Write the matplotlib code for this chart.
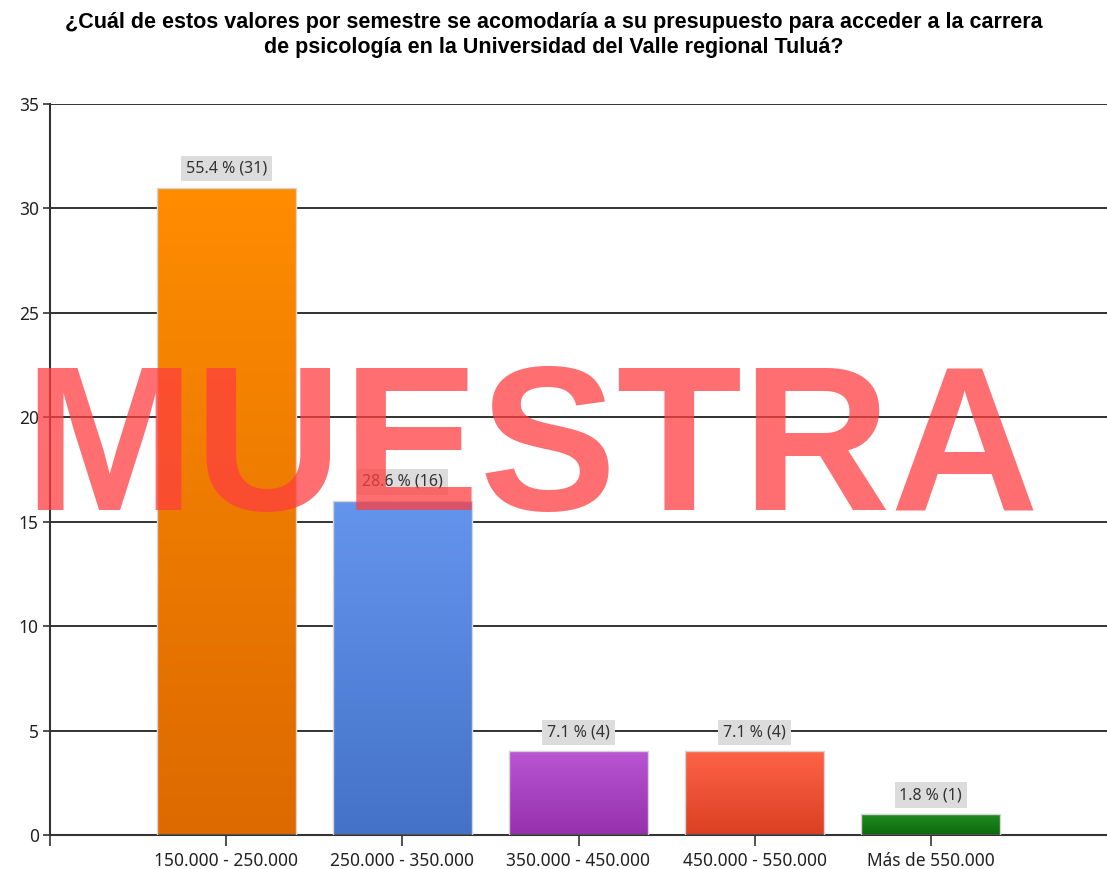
import matplotlib
matplotlib.use('Agg')
import matplotlib.pyplot as plt
import numpy as np
from matplotlib.colors import LinearSegmentedColormap

categories = ['150.000 - 250.000', '250.000 - 350.000', '350.000 - 450.000',
              '450.000 - 550.000', 'Más de 550.000']
counts = [31, 16, 4, 4, 1]
percents = [55.4, 28.6, 7.1, 7.1, 1.8]
top_colors = ['#FF8C00', '#6495ED', '#BA55D3', '#FF6347', '#228B22']
bottom_colors = ['#DC6A00', '#4472C8', '#9630AC', '#DC4023', '#0A6A0A']
title = ('¿Cuál de estos valores por semestre se acomodaría a su presupuesto para acceder a la carrera\n'
         'de psicología en la Universidad del Valle regional Tuluá?')
watermark = 'MUESTRA'

W, H = 1107, 869
fig = plt.figure(figsize=(W / 100, H / 100), dpi=100)
ax = fig.add_axes([50 / W, (H - 835) / H, 1 - 50 / W, (835 - 104) / H])

x = np.arange(len(categories))
bars = ax.bar(x, counts, width=0.79, facecolor='none', edgecolor='#d4d4d4',
              linewidth=1, zorder=3)
grad = np.linspace(0, 1, 256).reshape(-1, 1)
for b, c0, c1 in zip(bars, top_colors, bottom_colors):
    cmap = LinearSegmentedColormap.from_list('g', [c1, c0])
    x0, y0 = b.get_x(), b.get_y()
    w, h = b.get_width(), b.get_height()
    im = ax.imshow(grad, cmap=cmap, extent=[x0, x0 + w, y0, y0 + h],
                   origin='lower', aspect='auto', zorder=2.5, interpolation='bilinear')
    im.set_clip_path(b)

ax.set_xlim(-1, 5)
ax.set_ylim(0, 35)
ax.set_yticks(range(0, 36, 5))
ax.set_xticks([-1] + list(x))
ax.set_xticklabels([''] + categories)

lab_font = 'Noto Sans'
for xi, c, p in zip(x, counts, percents):
    ax.annotate(f'{p} % ({c})', (xi, c), xytext=(0, 11), textcoords='offset pixels',
                ha='center', va='bottom', fontsize=11.5, color='#333333', family=lab_font,
                bbox=dict(boxstyle='square,pad=0.3', fc='#dcdcdc', ec='none'), zorder=4)

ax.set_axisbelow(True)
ax.yaxis.grid(True, color='#222222', linewidth=1.3)
for s in ['top', 'right']:
    ax.spines[s].set_visible(False)
for s in ['left', 'bottom']:
    ax.spines[s].set_color('#333333')
    ax.spines[s].set_linewidth(1.5)
ax.tick_params(axis='y', length=5, width=1.2, color='#333333', pad=3,
               labelsize=12.5, labelcolor='#222222')
ax.tick_params(axis='x', length=8, width=1.2, color='#333333', pad=4,
               labelsize=12.5, labelcolor='#222222')
for t in ax.get_xticklabels() + ax.get_yticklabels():
    t.set_family(lab_font)

fig.text(0.5, 1 - 35 / H, title, ha='center', va='center', fontsize=15.5,
         fontweight='bold', family='Liberation Sans', linespacing=1.2)

fig.text(531 / W, 1 - 510 / H, watermark, ha='center', va='baseline', fontsize=148,
         fontweight='bold', family='Liberation Sans', color='#FF3E40', alpha=0.75, zorder=10)

fig.savefig('out.png', dpi=100)
